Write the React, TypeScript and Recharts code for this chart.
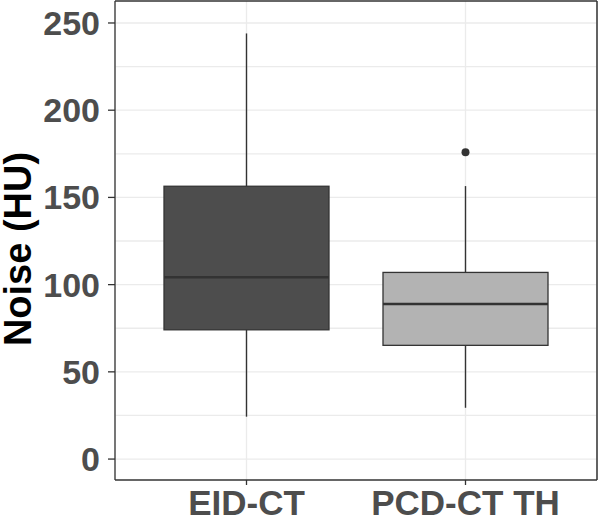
import React from 'react';
import {
  ComposedChart,
  Bar,
  Scatter,
  XAxis,
  YAxis,
  CartesianGrid,
} from 'recharts';

// groups and their box statistics (HU)
const groups = ['EID-CT', 'PCD-CT TH'];
const whiskerLow = [24.3, 29.4];
const q1 = [74.1, 65.2];
const median = [104.2, 88.9];
const q3 = [156.4, 107.0];
const whiskerHigh = [244.0, 156.5];
const outliers = [null, 175.9];
const boxFill = ['#4D4D4D', '#B3B3B3'];

const yDomain = [-12, 262.6];
const yTicks = [0, 50, 100, 150, 200, 250];
const gridValues = [0, 25, 50, 75, 100, 125, 150, 175, 200, 225, 250];

const boxData = groups.map((name, i) => ({
  name,
  range: [whiskerLow[i], whiskerHigh[i]],
  low: whiskerLow[i],
  high: whiskerHigh[i],
  q1: q1[i],
  median: median[i],
  q3: q3[i],
  outlier: outliers[i],
  fill: boxFill[i],
}));

const FONT = '"Liberation Sans", Arial, sans-serif';
const EDGE = '#333333';

// draws whiskers + box from the range bar's pixel box
const BoxShape = (props: any) => {
  const { x, y, width, height, payload } = props;
  const top = Math.min(y, y + height);
  const bottom = Math.max(y, y + height);
  const span = payload.high - payload.low;
  const toPx = (v: number) => bottom - ((v - payload.low) / span) * (bottom - top);
  const cx = x + width / 2;
  const yQ1 = toPx(payload.q1);
  const yQ3 = toPx(payload.q3);
  const yMed = toPx(payload.median);
  return (
    <g>
      <line x1={cx} x2={cx} y1={top} y2={yQ3} stroke={EDGE} strokeWidth={1.4} />
      <line x1={cx} x2={cx} y1={yQ1} y2={bottom} stroke={EDGE} strokeWidth={1.4} />
      <rect x={x} y={yQ3} width={width} height={yQ1 - yQ3} fill={payload.fill} stroke={EDGE} strokeWidth={1.3} />
      <line x1={x} x2={x + width} y1={yMed} y2={yMed} stroke={EDGE} strokeWidth={2.6} />
    </g>
  );
};

const OutlierDot = (p: any) => {
  if (p.payload == null || p.payload.outlier == null || !Number.isFinite(p.cy)) return <g />;
  return <circle cx={p.cx} cy={p.cy} r={4} fill={EDGE} />;
};

const YTitle = () => (
  <text
    x={31}
    y={249}
    transform="rotate(-90, 31, 249)"
    textAnchor="middle"
    fontFamily={FONT}
    fontWeight="bold"
    fontSize={38}
    fill="#000000"
  >
    Noise (HU)
  </text>
);

export default function App() {
  // major + minor horizontal grid lines
  const gridGen = ({ yAxis, offset }: any) =>
    gridValues.map((v) => {
      const s = yAxis && yAxis.scale;
      if (typeof s === 'function') return s(v);
      if (s && typeof s.map === 'function') return s.map(v);
      return offset.top + (offset.height * (yDomain[1] - v)) / (yDomain[1] - yDomain[0]);
    });

  return (
    <div style={{ position: 'absolute', left: 0, top: 0, width: 600, height: 521, background: '#fff' }}>
      <ComposedChart
        width={600}
        height={521}
        data={boxData}
        margin={{ top: 0, right: 2, left: 0, bottom: 0 }}
      >
        <CartesianGrid
          stroke="#EBEBEB"
          strokeWidth={1.3}
          horizontalCoordinatesGenerator={gridGen}
        />
        <XAxis
          dataKey="name"
          type="category"
          padding={{ left: 22, right: 22 }}
          height={41}
          tickSize={5}
          tickMargin={5}
          axisLine={{ stroke: EDGE, strokeWidth: 1.3 }}
          tickLine={{ stroke: EDGE, strokeWidth: 1.3 }}
          tick={{ fill: '#4D4D4D', fontSize: 35, fontWeight: 'bold', fontFamily: FONT }}
        />
        <XAxis
          xAxisId="top"
          dataKey="name"
          orientation="top"
          height={1}
          tick={false}
          tickLine={false}
          axisLine={{ stroke: EDGE, strokeWidth: 1.5 }}
        />
        <YAxis
          type="number"
          domain={yDomain}
          ticks={yTicks}
          allowDataOverflow
          width={115}
          tickSize={7}
          tickMargin={8}
          axisLine={{ stroke: EDGE, strokeWidth: 1.3 }}
          tickLine={{ stroke: EDGE, strokeWidth: 1.3 }}
          tick={{ fill: '#4D4D4D', fontSize: 34, fontWeight: 'bold', fontFamily: FONT }}
          label={<YTitle />}
        />
        <YAxis
          yAxisId="right"
          orientation="right"
          width={1}
          tick={false}
          tickLine={false}
          axisLine={{ stroke: EDGE, strokeWidth: 1.5 }}
        />
        <Bar dataKey="range" barSize={165} shape={<BoxShape />} isAnimationActive={false} />
        <Scatter dataKey="outlier" fill={EDGE} shape={<OutlierDot />} isAnimationActive={false} />
      </ComposedChart>
    </div>
  );
}
